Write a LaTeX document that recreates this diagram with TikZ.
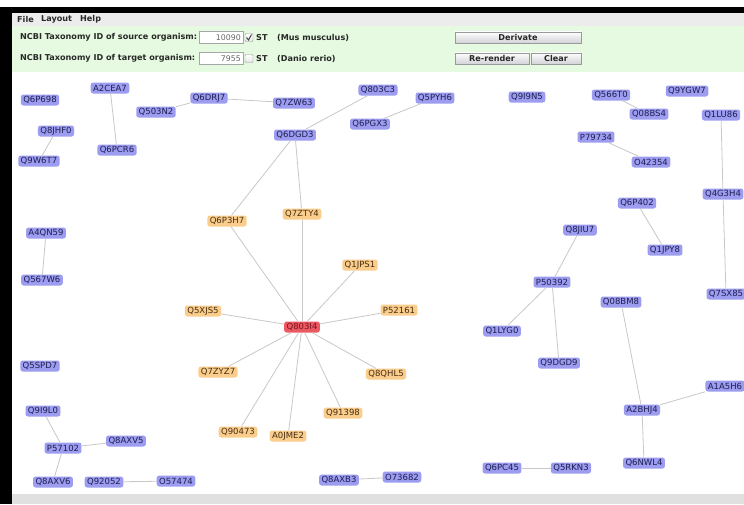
\documentclass[tikz,border=0pt]{standalone}
\usepackage{fontspec}
\setmainfont{DejaVu Sans}
\definecolor{nodeblue}{RGB}{156,156,240}
\definecolor{bluetext}{RGB}{30,30,80}
\definecolor{nodeorange}{RGB}{250,205,140}
\definecolor{orangetext}{RGB}{70,45,15}
\definecolor{nodered}{RGB}{236,88,98}
\definecolor{redtext}{RGB}{120,20,30}
\definecolor{edgegray}{RGB}{200,200,200}
\definecolor{panelgreen}{RGB}{229,250,224}
\definecolor{menugray}{RGB}{236,236,236}
\definecolor{uitext}{RGB}{40,40,40}
\newcommand\nodefont{\fontsize{8.5}{9}\selectfont}
\newcommand\uifont{\fontsize{8.1}{9}\selectfont\bfseries}
\tikzset{
  protnode/.style={rounded corners=2.5pt, minimum height=11pt, inner xsep=2.4pt, inner ysep=0pt, font=\nodefont},
  bluenode/.style={protnode, fill=nodeblue, text=bluetext},
  orangenode/.style={protnode, fill=nodeorange, text=orangetext},
  rednode/.style={protnode, fill=nodered, text=redtext},
  linkedge/.style={draw=edgegray, line width=0.8pt},
  uilabel/.style={anchor=west, inner sep=0pt, font=\uifont, text=uitext},
  fieldbox/.style={draw=black!35, fill=white, minimum width=44pt, minimum height=12pt, inner sep=0pt, anchor=west},
  fieldtext/.style={anchor=east, inner sep=0pt, font=\fontsize{7.8}{9}\selectfont, text=black!60},
  checkbox/.style={draw=black!40, top color=white, bottom color=blue!10!black!10, minimum size=8pt, inner sep=0pt, rounded corners=1pt},
  uibutton/.style={draw=black!40, top color=white, bottom color=blue!12!black!18, minimum height=11.5pt, inner sep=0pt, font=\uifont, text=uitext}
}
\begin{document}
\begin{tikzpicture}[x=1pt,y=-1pt]
\useasboundingbox (0,0) rectangle (744,504);
\begin{scope}
\clip (0,0) rectangle (744,504);
% frame
\fill[white] (0,0) rectangle (744,504);
\fill[black] (0,7) rectangle (744,13);
\fill[black] (0,7) rectangle (12,504);
\fill[menugray] (12,13) rectangle (744,26);
\fill[panelgreen] (12,26) rectangle (744,72);
\fill[black!12] (12,494) rectangle (744,504);
% menu
\node[uilabel] (mfile) at (17,19.5) {File};
\node[uilabel] (mlayout) at (41,19.5) {Layout};
\node[uilabel] (mhelp) at (80,19.5) {Help};
% row 1
\node[uilabel] (srclabel) at (20,37.5) {NCBI Taxonomy ID of source organism:};
\node[fieldbox] (srcfield) at (199,37.5) {};
\node[fieldtext] (srcval) at (241,37.5) {10090};
\node[checkbox] (srcbox) at (249,37.5) {};
\draw[black!75, line width=1pt] (246.5,37.5) -- (248.5,40) -- (251.5,34.5);
\node[uilabel] (srcst) at (256,37.5) {ST};
\node[uilabel] (srcorg) at (277,37.5) {(Mus musculus)};
% row 2
\node[uilabel] (tgtlabel) at (20,58.5) {NCBI Taxonomy ID of target organism:};
\node[fieldbox] (tgtfield) at (199,58.5) {};
\node[fieldtext] (tgtval) at (241,58.5) {7955};
\node[checkbox] (tgtbox) at (249,58.5) {};
\node[uilabel] (tgtst) at (256,58.5) {ST};
\node[uilabel] (tgtorg) at (277,58.5) {(Danio rerio)};
% buttons
\node[uibutton, minimum width=126pt] (derivate) at (518,37.5) {Derivate};
\node[uibutton, minimum width=74pt] (rerender) at (492,58.5) {Re-render};
\node[uibutton, minimum width=50pt] (clear) at (556,58.5) {Clear};
% blue nodes
\node[bluenode] (q6p698) at (40,100) {Q6P698};
\node[bluenode] (a2cea7) at (110,88) {A2CEA7};
\node[bluenode] (q6drj7) at (209,98) {Q6DRJ7};
\node[bluenode] (q7zw63) at (294,103) {Q7ZW63};
\node[bluenode] (q503n2) at (156,112) {Q503N2};
\node[bluenode] (q8jhf0) at (56,131) {Q8JHF0};
\node[bluenode] (q9w6t7) at (39,161) {Q9W6T7};
\node[bluenode] (q6pcr6) at (117,150) {Q6PCR6};
\node[bluenode] (q6dgd3) at (295,135) {Q6DGD3};
\node[bluenode] (q803c3) at (378,90) {Q803C3};
\node[bluenode] (q5pyh6) at (435,98) {Q5PYH6};
\node[bluenode] (q6pgx3) at (370,124) {Q6PGX3};
\node[bluenode] (q9i9n5) at (527,97) {Q9I9N5};
\node[bluenode] (q566t0) at (611,95) {Q566T0};
\node[bluenode] (q9ygw7) at (687,91) {Q9YGW7};
\node[bluenode] (q08bs4) at (649,114) {Q08BS4};
\node[bluenode] (q1lu86) at (721,115) {Q1LU86};
\node[bluenode] (p79734) at (596,137) {P79734};
\node[bluenode] (o42354) at (651,162) {O42354};
\node[bluenode] (q4g3h4) at (723,194) {Q4G3H4};
\node[bluenode] (q6p402) at (637,203) {Q6P402};
\node[bluenode] (q1jpy8) at (665,250) {Q1JPY8};
\node[bluenode] (q7sx85) at (726,294) {Q7SX85};
\node[bluenode] (q08bm8) at (621,302) {Q08BM8};
\node[bluenode] (q8jiu7) at (580,230) {Q8JIU7};
\node[bluenode] (p50392) at (552,282) {P50392};
\node[bluenode] (q1lyg0) at (502,331) {Q1LYG0};
\node[bluenode] (q9dgd9) at (559,363) {Q9DGD9};
\node[bluenode] (a1a5h6) at (725,386) {A1A5H6};
\node[bluenode] (a2bhj4) at (642,410) {A2BHJ4};
\node[bluenode] (q6nwl4) at (644,463) {Q6NWL4};
\node[bluenode] (q6pc45) at (502,468) {Q6PC45};
\node[bluenode] (q5rkn3) at (571,468) {Q5RKN3};
\node[bluenode] (a4qn59) at (46,233) {A4QN59};
\node[bluenode] (q567w6) at (42,280) {Q567W6};
\node[bluenode] (q5spd7) at (40,366) {Q5SPD7};
\node[bluenode] (q9i9l0) at (43,411) {Q9I9L0};
\node[bluenode] (p57102) at (63,448) {P57102};
\node[bluenode] (q8axv5) at (126,441) {Q8AXV5};
\node[bluenode] (q8axv6) at (53,482) {Q8AXV6};
\node[bluenode] (q92052) at (104,482) {Q92052};
\node[bluenode] (o57474) at (176,481) {O57474};
\node[bluenode] (q8axb3) at (339,480) {Q8AXB3};
\node[bluenode] (o73682) at (402,477) {O73682};
% orange nodes
\node[orangenode] (q6p3h7) at (227,221) {Q6P3H7};
\node[orangenode] (q7zty4) at (302,214) {Q7ZTY4};
\node[orangenode] (q1jps1) at (360,265) {Q1JPS1};
\node[orangenode] (p52161) at (399,310) {P52161};
\node[orangenode] (q5xjs5) at (203,311) {Q5XJS5};
\node[orangenode] (q7zyz7) at (218,372) {Q7ZYZ7};
\node[orangenode] (q8qhl5) at (386,374) {Q8QHL5};
\node[orangenode] (q91398) at (343,413) {Q91398};
\node[orangenode] (q90473) at (238,432) {Q90473};
\node[orangenode] (a0jme2) at (288,436) {A0JME2};
% red hub
\node[rednode] (q803i4) at (302,327) {Q803I4};
% edges
\draw[linkedge] (a2cea7) -- (q6pcr6);
\draw[linkedge] (q8jhf0) -- (q9w6t7);
\draw[linkedge] (q503n2) -- (q6drj7);
\draw[linkedge] (q6drj7) -- (q7zw63);
\draw[linkedge] (q6dgd3) -- (q803c3);
\draw[linkedge] (q6dgd3) -- (q6p3h7);
\draw[linkedge] (q6dgd3) -- (q7zty4);
\draw[linkedge] (q6pgx3) -- (q5pyh6);
\draw[linkedge] (q566t0) -- (q08bs4);
\draw[linkedge] (p79734) -- (o42354);
\draw[linkedge] (q1lu86) -- (q4g3h4);
\draw[linkedge] (q4g3h4) -- (q7sx85);
\draw[linkedge] (q6p402) -- (q1jpy8);
\draw[linkedge] (q8jiu7) -- (p50392);
\draw[linkedge] (p50392) -- (q1lyg0);
\draw[linkedge] (p50392) -- (q9dgd9);
\draw[linkedge] (q08bm8) -- (a2bhj4);
\draw[linkedge] (a2bhj4) -- (a1a5h6);
\draw[linkedge] (a2bhj4) -- (q6nwl4);
\draw[linkedge] (q6pc45) -- (q5rkn3);
\draw[linkedge] (a4qn59) -- (q567w6);
\draw[linkedge] (q9i9l0) -- (p57102);
\draw[linkedge] (p57102) -- (q8axv5);
\draw[linkedge] (p57102) -- (q8axv6);
\draw[linkedge] (q92052) -- (o57474);
\draw[linkedge] (q8axb3) -- (o73682);
\foreach \t in {q6p3h7,q7zty4,q1jps1,p52161,q5xjs5,q7zyz7,q8qhl5,q91398,q90473,a0jme2}
  \draw[linkedge] (q803i4) -- (\t);
\end{scope}
\end{tikzpicture}
\end{document}
